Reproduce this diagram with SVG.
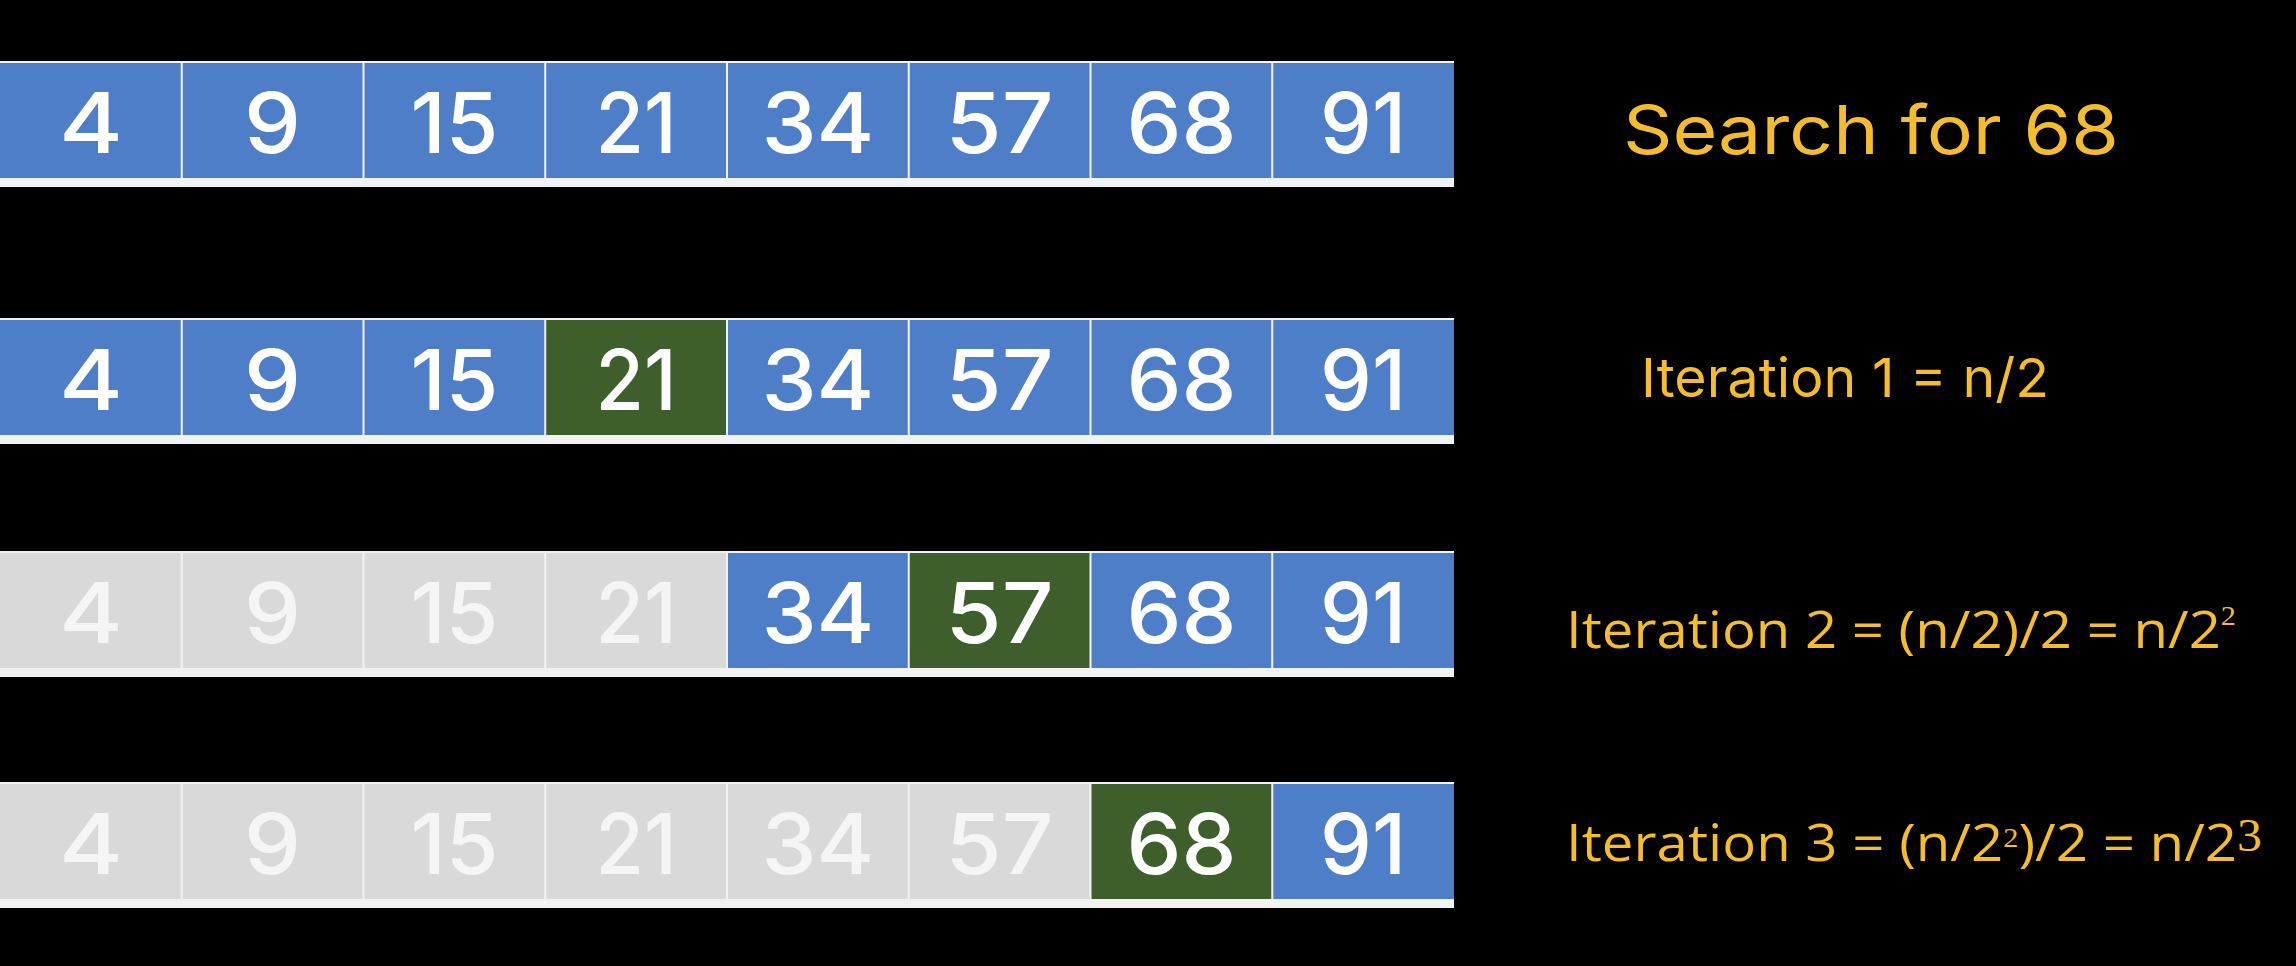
<svg xmlns="http://www.w3.org/2000/svg" width="2296" height="966" viewBox="0 0 2296 966">
<style>
.bg{fill:#000}
.frame{fill:#f2f2f2}
.blue{fill:#4f7ec8}
.green{fill:#3e5e2b}
.gray{fill:#d9d9d9}
.num{font-family:Inter,"Open Sans",sans-serif;font-size:84px;font-weight:500;fill:#ffffff;text-anchor:middle}
.dim{fill:#f5f5f5}
.lbl{fill:#f5bd2e;font-family:Inter,"Open Sans",sans-serif}
.lbl2{fill:#f5bd2e;font-family:"Open Sans","Noto Sans",sans-serif;font-size:52px}
.sup{font-family:"Liberation Serif","DejaVu Serif",serif}
</style>
<rect class="bg" x="0" y="0" width="2296" height="966"/>

<g id="row1">
<rect class="frame" x="0" y="61" width="1454" height="126"/>
<g id="r1c0"><rect class="blue" x="0" y="63" width="180.75" height="115"/><text class="num" x="90.9" y="153" textLength="64" lengthAdjust="spacingAndGlyphs">4</text></g>
<g id="r1c1"><rect class="blue" x="182.75" y="63" width="179.75" height="115"/><text class="num" x="272.6" y="153" textLength="57" lengthAdjust="spacingAndGlyphs">9</text></g>
<g id="r1c2"><rect class="blue" x="364.5" y="63" width="179.75" height="115"/><text class="num" x="454.4" y="153" textLength="88" lengthAdjust="spacingAndGlyphs">15</text></g>
<g id="r1c3"><rect class="blue" x="546.25" y="63" width="179.75" height="115"/><text class="num" x="636.1" y="153" textLength="81" lengthAdjust="spacingAndGlyphs">21</text></g>
<g id="r1c4"><rect class="blue" x="728" y="63" width="179.75" height="115"/><text class="num" x="817.9" y="153" textLength="113" lengthAdjust="spacingAndGlyphs">34</text></g>
<g id="r1c5"><rect class="blue" x="909.75" y="63" width="179.75" height="115"/><text class="num" x="999.6" y="153" textLength="108" lengthAdjust="spacingAndGlyphs">57</text></g>
<g id="r1c6"><rect class="blue" x="1091.5" y="63" width="179.75" height="115"/><text class="num" x="1181.4" y="153" textLength="110" lengthAdjust="spacingAndGlyphs">68</text></g>
<g id="r1c7"><rect class="blue" x="1273.25" y="63" width="180.75" height="115"/><text class="num" x="1363.1" y="153" textLength="86" lengthAdjust="spacingAndGlyphs">91</text></g>
</g>

<g id="row2">
<rect class="frame" x="0" y="318" width="1454" height="126"/>
<g id="r2c0"><rect class="blue" x="0" y="320" width="180.75" height="115"/><text class="num" x="90.9" y="410" textLength="64" lengthAdjust="spacingAndGlyphs">4</text></g>
<g id="r2c1"><rect class="blue" x="182.75" y="320" width="179.75" height="115"/><text class="num" x="272.6" y="410" textLength="57" lengthAdjust="spacingAndGlyphs">9</text></g>
<g id="r2c2"><rect class="blue" x="364.5" y="320" width="179.75" height="115"/><text class="num" x="454.4" y="410" textLength="88" lengthAdjust="spacingAndGlyphs">15</text></g>
<g id="r2c3"><rect class="green" x="546.25" y="320" width="179.75" height="115"/><text class="num" x="636.1" y="410" textLength="81" lengthAdjust="spacingAndGlyphs">21</text></g>
<g id="r2c4"><rect class="blue" x="728" y="320" width="179.75" height="115"/><text class="num" x="817.9" y="410" textLength="113" lengthAdjust="spacingAndGlyphs">34</text></g>
<g id="r2c5"><rect class="blue" x="909.75" y="320" width="179.75" height="115"/><text class="num" x="999.6" y="410" textLength="108" lengthAdjust="spacingAndGlyphs">57</text></g>
<g id="r2c6"><rect class="blue" x="1091.5" y="320" width="179.75" height="115"/><text class="num" x="1181.4" y="410" textLength="110" lengthAdjust="spacingAndGlyphs">68</text></g>
<g id="r2c7"><rect class="blue" x="1273.25" y="320" width="180.75" height="115"/><text class="num" x="1363.1" y="410" textLength="86" lengthAdjust="spacingAndGlyphs">91</text></g>
</g>

<g id="row3">
<rect class="frame" x="0" y="551" width="1454" height="126"/>
<g id="r3c0"><rect class="gray" x="0" y="553" width="180.75" height="115"/><text class="num dim" x="90.9" y="643" textLength="64" lengthAdjust="spacingAndGlyphs">4</text></g>
<g id="r3c1"><rect class="gray" x="182.75" y="553" width="179.75" height="115"/><text class="num dim" x="272.6" y="643" textLength="57" lengthAdjust="spacingAndGlyphs">9</text></g>
<g id="r3c2"><rect class="gray" x="364.5" y="553" width="179.75" height="115"/><text class="num dim" x="454.4" y="643" textLength="88" lengthAdjust="spacingAndGlyphs">15</text></g>
<g id="r3c3"><rect class="gray" x="546.25" y="553" width="179.75" height="115"/><text class="num dim" x="636.1" y="643" textLength="81" lengthAdjust="spacingAndGlyphs">21</text></g>
<g id="r3c4"><rect class="blue" x="728" y="553" width="179.75" height="115"/><text class="num" x="817.9" y="643" textLength="113" lengthAdjust="spacingAndGlyphs">34</text></g>
<g id="r3c5"><rect class="green" x="909.75" y="553" width="179.75" height="115"/><text class="num" x="999.6" y="643" textLength="108" lengthAdjust="spacingAndGlyphs">57</text></g>
<g id="r3c6"><rect class="blue" x="1091.5" y="553" width="179.75" height="115"/><text class="num" x="1181.4" y="643" textLength="110" lengthAdjust="spacingAndGlyphs">68</text></g>
<g id="r3c7"><rect class="blue" x="1273.25" y="553" width="180.75" height="115"/><text class="num" x="1363.1" y="643" textLength="86" lengthAdjust="spacingAndGlyphs">91</text></g>
</g>

<g id="row4">
<rect class="frame" x="0" y="782" width="1454" height="126"/>
<g id="r4c0"><rect class="gray" x="0" y="784" width="180.75" height="115"/><text class="num dim" x="90.9" y="874" textLength="64" lengthAdjust="spacingAndGlyphs">4</text></g>
<g id="r4c1"><rect class="gray" x="182.75" y="784" width="179.75" height="115"/><text class="num dim" x="272.6" y="874" textLength="57" lengthAdjust="spacingAndGlyphs">9</text></g>
<g id="r4c2"><rect class="gray" x="364.5" y="784" width="179.75" height="115"/><text class="num dim" x="454.4" y="874" textLength="88" lengthAdjust="spacingAndGlyphs">15</text></g>
<g id="r4c3"><rect class="gray" x="546.25" y="784" width="179.75" height="115"/><text class="num dim" x="636.1" y="874" textLength="81" lengthAdjust="spacingAndGlyphs">21</text></g>
<g id="r4c4"><rect class="gray" x="728" y="784" width="179.75" height="115"/><text class="num dim" x="817.9" y="874" textLength="113" lengthAdjust="spacingAndGlyphs">34</text></g>
<g id="r4c5"><rect class="gray" x="909.75" y="784" width="179.75" height="115"/><text class="num dim" x="999.6" y="874" textLength="108" lengthAdjust="spacingAndGlyphs">57</text></g>
<g id="r4c6"><rect class="green" x="1091.5" y="784" width="179.75" height="115"/><text class="num" x="1181.4" y="874" textLength="110" lengthAdjust="spacingAndGlyphs">68</text></g>
<g id="r4c7"><rect class="blue" x="1273.25" y="784" width="180.75" height="115"/><text class="num" x="1363.1" y="874" textLength="86" lengthAdjust="spacingAndGlyphs">91</text></g>
</g>

<g id="connectors"></g>

<g id="labels">
<text id="search" class="lbl" x="1623" y="154" font-size="67" font-weight="400" textLength="496" lengthAdjust="spacingAndGlyphs">Search for 68</text>
<text id="iter1" class="lbl" x="1641" y="397" font-size="54" textLength="408" lengthAdjust="spacingAndGlyphs">Iteration 1 = n/2</text>
<text id="iter2" class="lbl2" x="1566" y="648" textLength="670" lengthAdjust="spacingAndGlyphs">Iteration 2 = (n/2)/2 = n/2<tspan class="sup" font-size="28" dy="-23">2</tspan></text>
<text id="iter3" class="lbl2" x="1566" y="861" textLength="696" lengthAdjust="spacingAndGlyphs">Iteration 3 = (n/2<tspan class="sup" font-size="28" dy="-14">2</tspan><tspan dy="14">)/2 = n/2</tspan><tspan class="sup" font-size="46" dy="-10">3</tspan></text>
</g>
</svg>
